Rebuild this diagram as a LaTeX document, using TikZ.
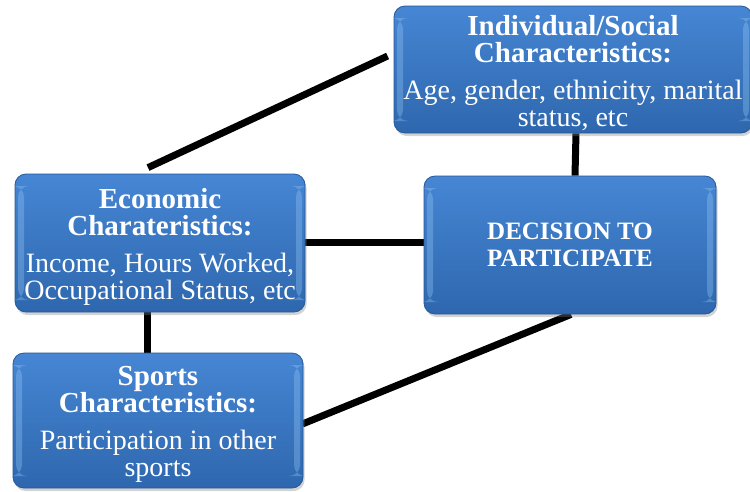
\documentclass[tikz,border=0pt]{standalone}
\usepackage{fontspec}
\setmainfont{Liberation Serif}
\usetikzlibrary{calc,shadows,backgrounds}
\definecolor{boxtop}{RGB}{70,134,212}
\definecolor{boxbot}{RGB}{46,103,174}
\definecolor{boxedge}{RGB}{40,88,150}
\definecolor{bevel}{RGB}{150,200,245}
\newcommand{\hd}[1]{{\fontsize{29}{27}\selectfont\bfseries #1}}
\newcommand{\hdd}[1]{{\fontsize{25}{27}\selectfont\bfseries #1}}
\tikzset{
  bluebox/.style={rounded corners=11pt, draw=boxedge, line width=0.8pt,
    top color=boxtop, bottom color=boxbot, inner sep=0pt,
    drop shadow={opacity=0.35, shadow xshift=1.5pt, shadow yshift=-3pt},
    path picture={
      \fill[bevel,opacity=0.35] ([xshift=3pt,yshift=-12pt]path picture bounding box.north west) rectangle ([xshift=9pt,yshift=12pt]path picture bounding box.south west);
      \fill[bevel,opacity=0.35] ([xshift=-3pt,yshift=-12pt]path picture bounding box.north east) rectangle ([xshift=-9pt,yshift=12pt]path picture bounding box.south east);
    }},
  boxtext/.style={text=white, align=center, font=\fontsize{28}{27}\selectfont, inner sep=0pt},
  link/.style={line width=7pt, black}
}
\begin{document}
\begin{tikzpicture}[x=1pt,y=-1pt]
\useasboundingbox (0,0) rectangle (750,491);
\node[bluebox, minimum width=358pt, minimum height=127pt] (ind) at (573,69.5) {};
\node[boxtext] (indtext) at ($(ind.center)+(0,4)$)
  {\hd{Individual/Social}\\\hd{Characteristics:}\\[10pt]Age, gender, ethnicity, marital\\status, etc};
\node[bluebox, minimum width=290pt, minimum height=138pt] (eco) at (160,243) {};
\node[boxtext] (ecotext) at ($(eco.center)+(0,4)$)
  {\hd{Economic}\\\hd{Charateristics:}\\[10pt]Income, Hours Worked,\\Occupational Status, etc};
\node[bluebox, minimum width=290pt, minimum height=135pt] (spo) at (158,420.5) {};
\node[boxtext] (spotext) at ($(spo.center)+(0,4)$)
  {\hd{Sports}\\\hd{Characteristics:}\\[10pt]Participation in other\\sports};
\node[bluebox, minimum width=292pt, minimum height=138pt] (dec) at (570,245) {};
\node[boxtext] (dectext) at ($(dec.center)+(0,0)$)
  {\hdd{DECISION TO}\\\hdd{PARTICIPATE}};
\begin{scope}[on background layer]
\draw[link] ($(ind.west)+(-6,-13.5)$) -- ($(eco.north)+(-12,-6)$);
\draw[link] ($(ind.south)+(3,0)$) -- ($(dec.north)+(5,0)$);
\draw[link] ($(eco.east)+(-5,-1)$) -- ($(dec.west)+(6,-3)$);
\draw[link] ($(eco.south)+(-13,-4)$) -- ($(spo.north)+(-11,2)$);
\draw[link] ($(spo.east)+(-1,3.5)$) -- ($(dec.south)+(1,0)$);
\end{scope}
\end{tikzpicture}
\end{document}
